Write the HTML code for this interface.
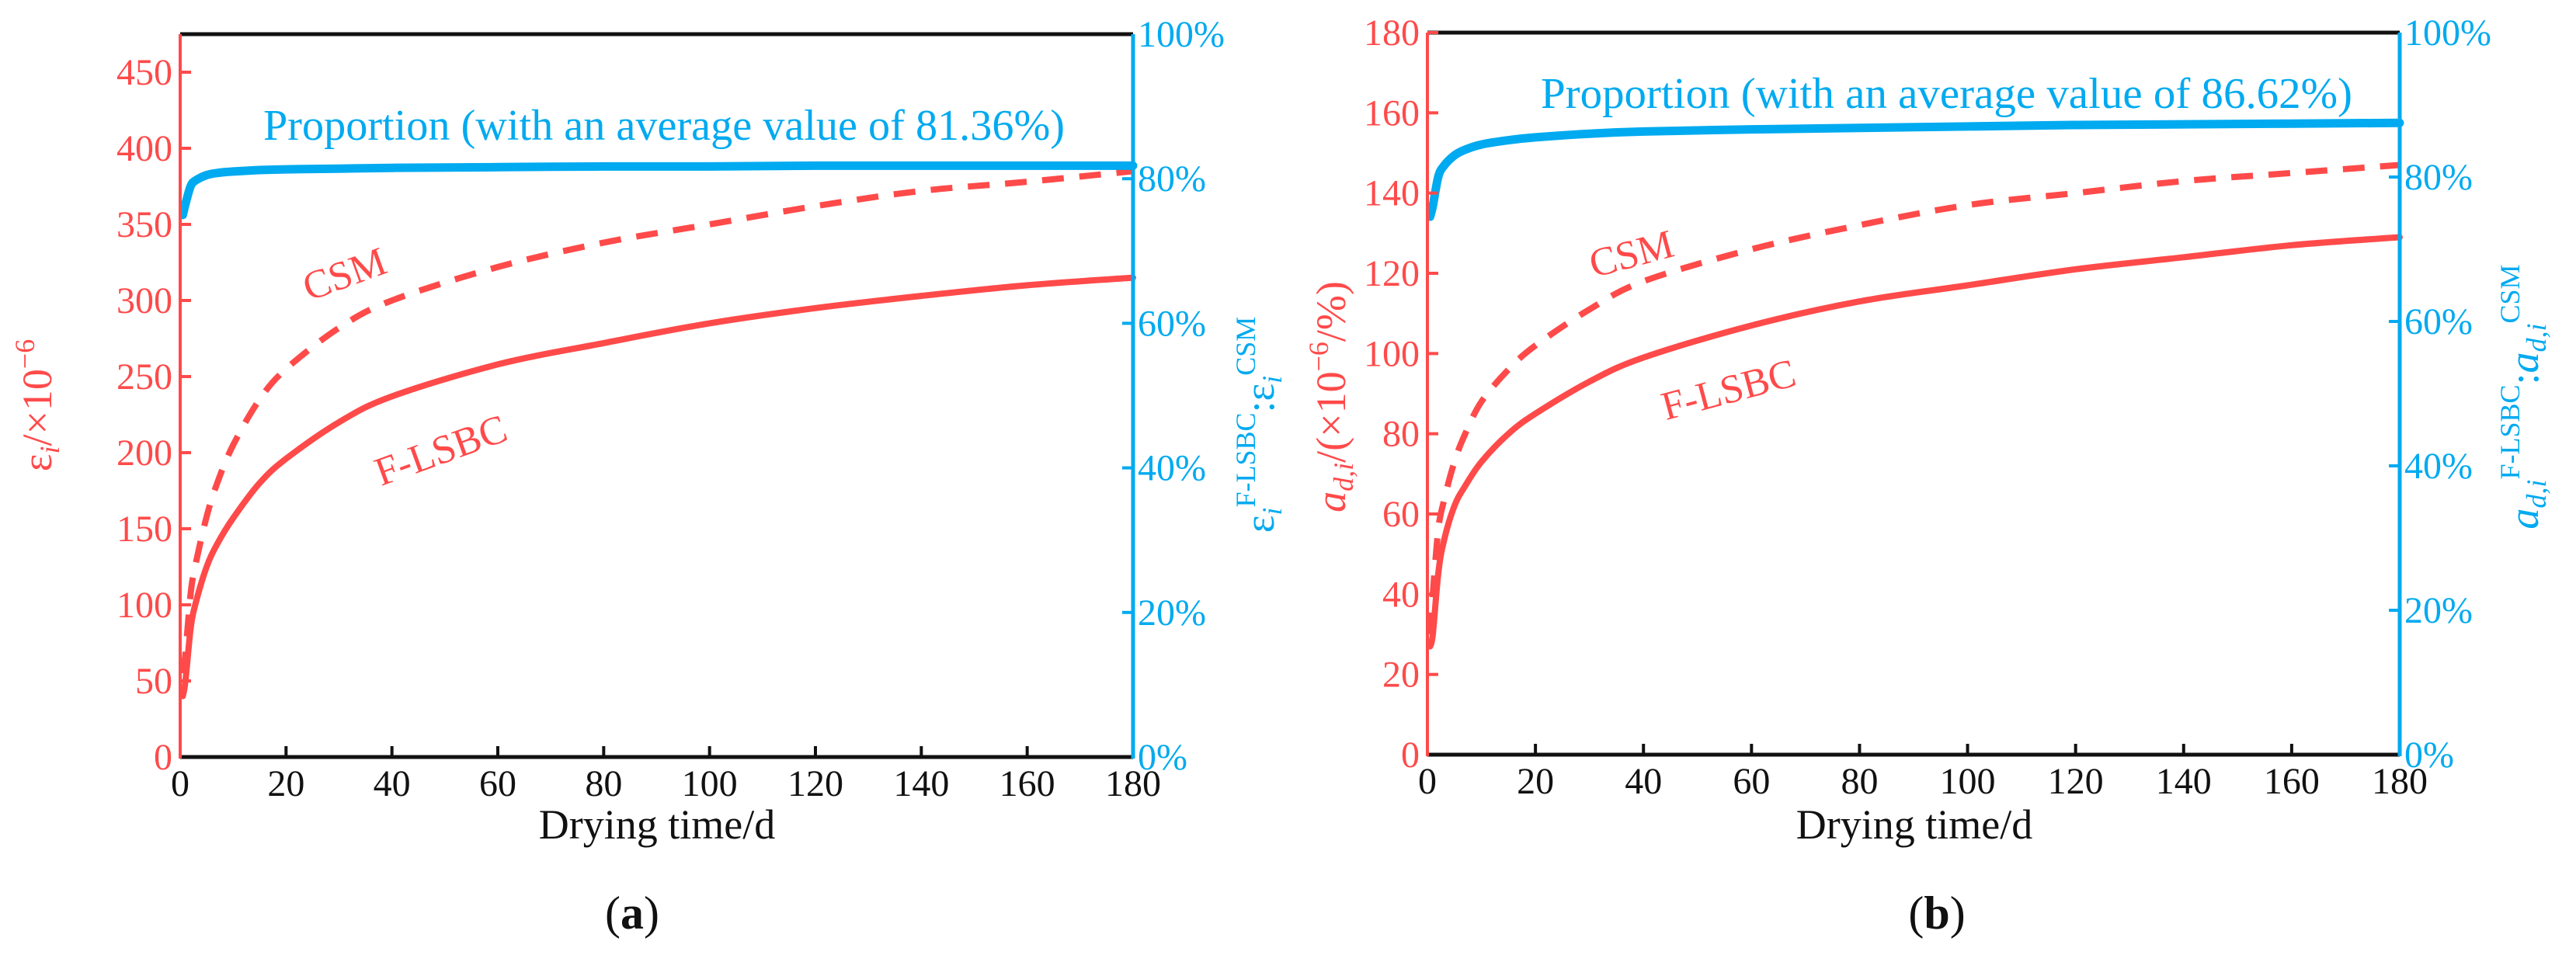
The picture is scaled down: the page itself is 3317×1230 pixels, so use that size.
<!DOCTYPE html>
<html><head><meta charset="utf-8">
<style>
html,body{margin:0;padding:0;background:#fff;}
svg{display:block;}
svg text{font-family:"Liberation Serif",serif;}
</style></head>
<body>
<svg id="fig" width="3317" height="1230" viewBox="0 0 3317 1230" xmlns="http://www.w3.org/2000/svg" font-family="Liberation Serif, serif" style="position:absolute;left:0;top:0"></svg>
<script>
// ---- data: chart (a) ----
const daysA = [0.5, 1, 2, 3, 5, 7, 10, 15, 20, 30, 40, 60, 80, 100, 120, 140, 160, 180];
const flsbcA = [40, 50, 85, 102, 125, 140, 157, 180, 196, 220, 237, 258, 272, 285, 295, 303, 310, 315];
const csmA = [55, 68, 108, 128, 158, 180, 205, 235, 255, 282, 300, 322, 338, 350, 362, 372, 378, 385];
const propA = [75, 76.5, 79, 79.8, 80.5, 80.8, 81, 81.2, 81.3, 81.4, 81.5, 81.6, 81.7, 81.7, 81.8, 81.8, 81.8, 81.8];
const leftTicksA = [0, 50, 100, 150, 200, 250, 300, 350, 400, 450];
// ---- data: chart (b) ----
const daysB = [0.5, 1, 2, 3, 5, 7, 10, 15, 20, 30, 40, 60, 80, 100, 120, 140, 160, 180];
const flsbcB = [27, 30, 45, 53, 62, 67, 73, 80, 85, 93, 99, 107, 113, 117, 121, 124, 127, 129];
const csmB = [30, 40, 56, 63, 73, 80, 88, 96, 102, 111, 118, 126, 132, 137, 140, 143, 145, 147];
const propB = [74.5, 76, 80, 81.5, 83, 83.8, 84.5, 85.1, 85.5, 86, 86.3, 86.6, 86.8, 87, 87.2, 87.3, 87.4, 87.5];
const leftTicksB = [0, 20, 40, 60, 80, 100, 120, 140, 160, 180];
// shared
const xTicks = [0, 20, 40, 60, 80, 100, 120, 140, 160, 180];
const pctTicks = [0, 20, 40, 60, 80, 100];

const NS = "http://www.w3.org/2000/svg";
const svg = document.getElementById('fig');
const RED = "#ff4a4a", BLUE = "#00aaf0";
function mk(tag, attrs, parent) {
  const e = document.createElementNS(NS, tag);
  for (const k in attrs) e.setAttribute(k, attrs[k]);
  if (tag === 'text') e.setAttribute('font-family', 'Liberation Serif, serif');
  (parent || svg).appendChild(e);
  return e;
}
function smooth(pts) {
  let d = 'M' + pts[0][0].toFixed(1) + ',' + pts[0][1].toFixed(1);
  for (let i = 0; i < pts.length - 1; i++) {
    const p0 = pts[Math.max(0, i - 1)], p1 = pts[i], p2 = pts[i + 1], p3 = pts[Math.min(pts.length - 1, i + 2)];
    const c1 = [p1[0] + (p2[0] - p0[0]) / 6, p1[1] + (p2[1] - p0[1]) / 6];
    const c2 = [p2[0] - (p3[0] - p1[0]) / 6, p2[1] - (p3[1] - p1[1]) / 6];
    d += 'C' + c1[0].toFixed(1) + ',' + c1[1].toFixed(1) + ' ' + c2[0].toFixed(1) + ',' + c2[1].toFixed(1) + ' ' + p2[0].toFixed(1) + ',' + p2[1].toFixed(1);
  }
  return d;
}

function chart(cfg) {
  const g = mk('g', {});
  
  
  const X = v => cfg.x0 + (v / 180) * (cfg.x1 - cfg.x0);
  const Y = v => cfg.yb - (v / cfg.ymax) * (cfg.yb - cfg.yt);
  const P = v => cfg.yb - (v / 100) * (cfg.yb - cfg.yt);

  function path(ys, fn, color, w, dash, nm) {
    const pts = cfg.days.map((t, i) => [X(t), fn(ys[i])]);
    const p = mk('path', {d: smooth(pts), fill: 'none', stroke: color, 'stroke-width': w, 'stroke-linejoin': 'round', 'stroke-linecap': dash ? 'butt' : 'round'}, g);
    if (dash) p.setAttribute('stroke-dasharray', dash);
    
    
  }
  path(cfg.csm, Y, RED, 8, '28,20', 'csm-dashed-line');
  path(cfg.flsbc, Y, RED, 8, null, 'flsbc-solid-line');
  path(cfg.prop, P, BLUE, 11, null, 'proportion-line');

  let a;
  a = mk('line', {x1: cfg.x0, y1: cfg.yt, x2: cfg.x1, y2: cfg.yt, stroke: '#111', 'stroke-width': 5}, g);
   
  a = mk('line', {x1: cfg.x0, y1: cfg.yb, x2: cfg.x1, y2: cfg.yb, stroke: '#111', 'stroke-width': 5}, g);
   
  a = mk('line', {x1: cfg.x0, y1: cfg.yt, x2: cfg.x0, y2: cfg.yb + 2, stroke: RED, 'stroke-width': 4}, g);
   
  a = mk('line', {x1: cfg.x1, y1: cfg.yt, x2: cfg.x1, y2: cfg.yb + 2, stroke: BLUE, 'stroke-width': 5}, g);
   

  xTicks.forEach(v => {
    const x = X(v);
    if (v > 0 && v < 180) {
      const t = mk('line', {x1: x, y1: cfg.yb, x2: x, y2: cfg.yb - 14, stroke: '#111', 'stroke-width': 4}, g);
       
    }
    const l = mk('text', {x: x, y: cfg.yb + 50, 'text-anchor': 'middle', 'font-size': 48, fill: '#111'}, g);
    l.textContent = v;
     
  });
  cfg.leftTicks.forEach(v => {
    const y = Y(v);
    if (v > 0) {
      const t = mk('line', {x1: cfg.x0, y1: y, x2: cfg.x0 + 14, y2: y, stroke: RED, 'stroke-width': 4}, g);
       
    }
    const l = mk('text', {x: cfg.x0 - 10, y: y + 16, 'text-anchor': 'end', 'font-size': 48, fill: RED}, g);
    l.textContent = v;
     
  });
  pctTicks.forEach(v => {
    const y = P(v);
    if (v > 0 && v < 100) {
      const t = mk('line', {x1: cfg.x1, y1: y, x2: cfg.x1 - 14, y2: y, stroke: BLUE, 'stroke-width': 4}, g);
       
    }
    const l = mk('text', {x: cfg.x1 + 6, y: y + 16, 'text-anchor': 'start', 'font-size': 48, fill: BLUE}, g);
    l.textContent = v + '%';
     
  });
  return g;
}

chart({name: 'chart-a', x0: 232, x1: 1459, yt: 44, yb: 975, ymax: 475,
  days: daysA, flsbc: flsbcA, csm: csmA, prop: propA, leftTicks: leftTicksA});
chart({name: 'chart-b', x0: 1838, x1: 3090, yt: 42, yb: 972, ymax: 180,
  days: daysB, flsbc: flsbcB, csm: csmB, prop: propB, leftTicks: leftTicksB});
</script>

<svg width="3317" height="1230" style="position:absolute;left:0;top:0" font-family="Liberation Serif, serif">
  <text x="339" y="180" font-size="56" fill="#00aaf0" textLength="1032" lengthAdjust="spacingAndGlyphs">Proportion (with an average value of 81.36%)</text>
  <text x="444" y="370" font-size="52" fill="#ff4a4a" text-anchor="middle" transform="rotate(-20 444 354)">CSM</text>
  <text x="568" y="597" font-size="52" fill="#ff4a4a" text-anchor="middle" transform="rotate(-20 568 581)">F-LSBC</text>
  <text x="846" y="1080" font-size="54" fill="#111" text-anchor="middle">Drying time/d</text>
  <text x="814" y="1196" font-size="60" fill="#111" text-anchor="middle">(<tspan font-weight="bold">a</tspan>)</text>
  <text x="0" y="0" font-size="54" fill="#ff4a4a" text-anchor="middle" transform="translate(66 522) rotate(-90)">ε<tspan font-style="italic" font-size="36" dy="10">i</tspan><tspan dy="-10">/×10</tspan><tspan font-size="36" dy="-22">−6</tspan></text>
  <text x="0" y="0" font-size="54" fill="#00aaf0" text-anchor="middle" transform="translate(1640 547) rotate(-90)">ε<tspan font-style="italic" font-size="36" dy="10">i</tspan><tspan font-size="36" dy="-34">F-LSBC</tspan><tspan dy="24">:ε</tspan><tspan font-style="italic" font-size="36" dy="10">i</tspan><tspan font-size="36" dy="-34">CSM</tspan></text>
  <text x="1984" y="139" font-size="56" fill="#00aaf0" textLength="1045" lengthAdjust="spacingAndGlyphs">Proportion (with an average value of 86.62%)</text>
  <text x="2101" y="344" font-size="52" fill="#ff4a4a" text-anchor="middle" transform="rotate(-15 2101 328)">CSM</text>
  <text x="2226" y="519" font-size="52" fill="#ff4a4a" text-anchor="middle" transform="rotate(-15 2226 503)">F-LSBC</text>
  <text x="2465" y="1080" font-size="54" fill="#111" text-anchor="middle">Drying time/d</text>
  <text x="2494" y="1196" font-size="60" fill="#111" text-anchor="middle">(<tspan font-weight="bold">b</tspan>)</text>
  <text x="0" y="0" font-size="54" fill="#ff4a4a" text-anchor="middle" transform="translate(1732 511) rotate(-90)"><tspan font-style="italic">a</tspan><tspan font-style="italic" font-size="36" dy="10">d,i</tspan><tspan dy="-10">/(×10</tspan><tspan font-size="36" dy="-22">−6</tspan><tspan dy="22">/%)</tspan></text>
  <text x="0" y="0" font-size="54" fill="#00aaf0" text-anchor="middle" transform="translate(3268 511) rotate(-90)"><tspan font-style="italic">a</tspan><tspan font-style="italic" font-size="36" dy="10">d,i</tspan><tspan font-size="36" dy="-34">F-LSBC</tspan><tspan dy="24">:</tspan><tspan font-style="italic">a</tspan><tspan font-style="italic" font-size="36" dy="10">d,i</tspan><tspan font-size="36" dy="-34">CSM</tspan></text>
</svg>
</body></html>
